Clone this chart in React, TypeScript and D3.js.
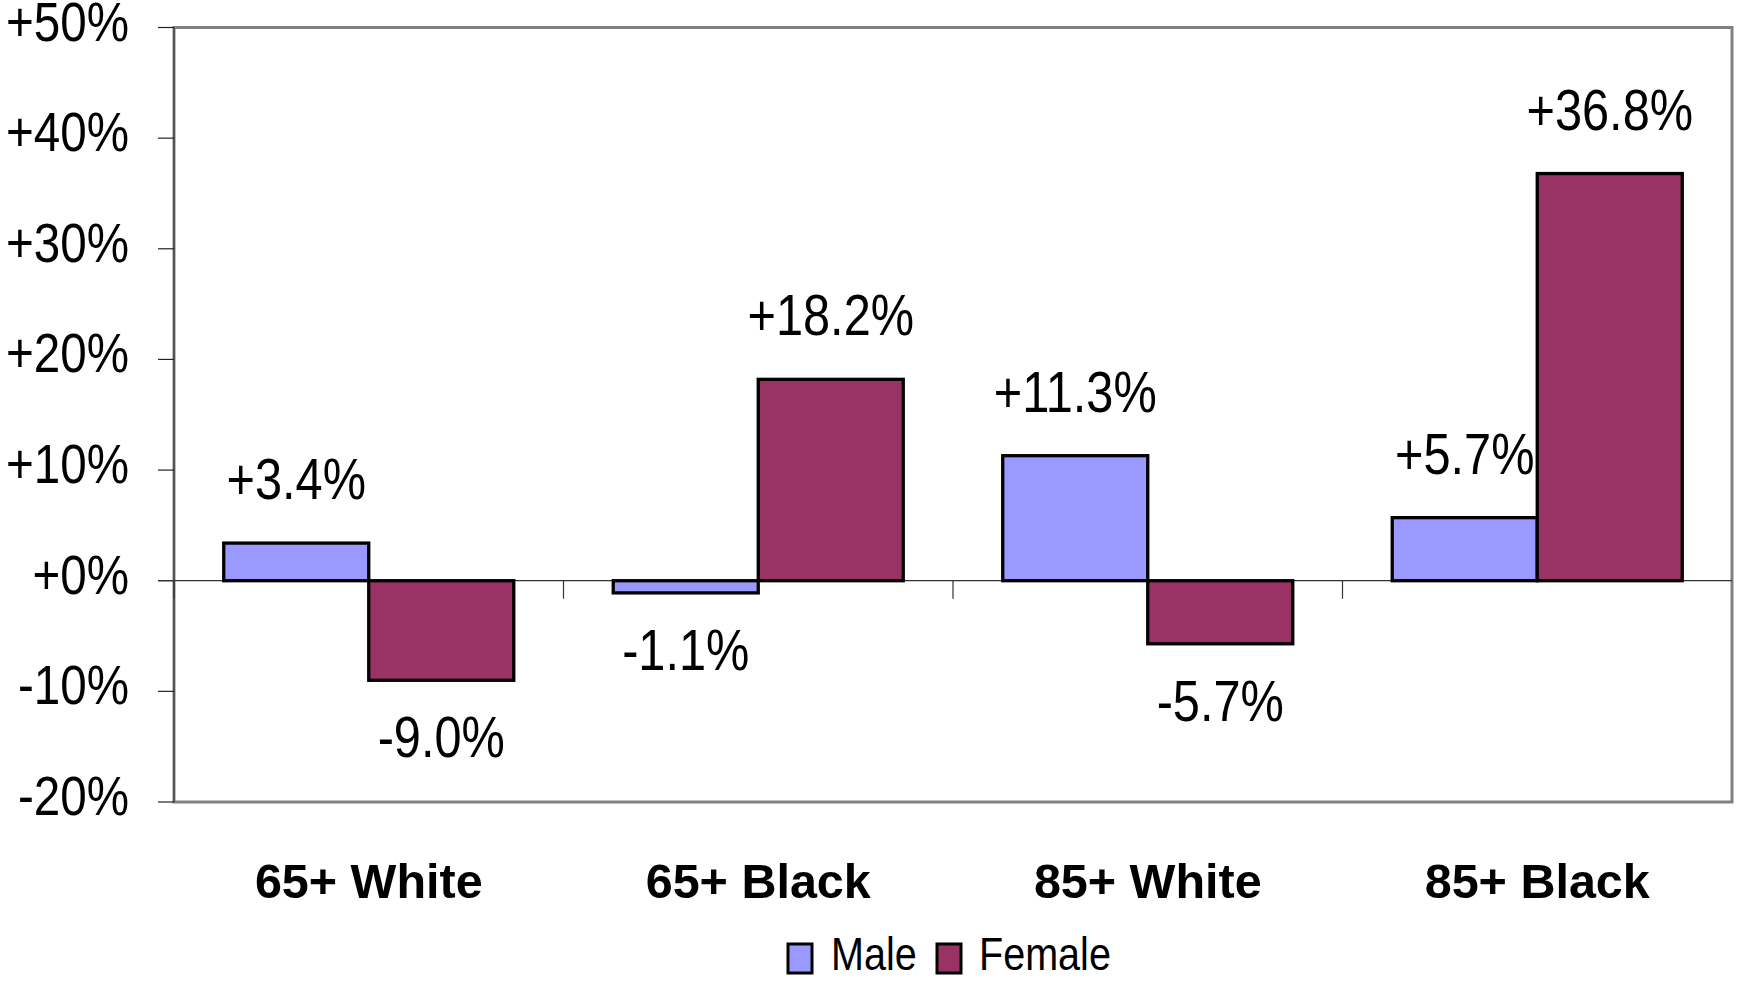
import React from 'react';
import * as d3 from 'd3';

const categories = ['65+ White', '65+ Black', '85+ White', '85+ Black'];
const series = ['Male', 'Female'];
const maleValues = [3.4, -1.1, 11.3, 5.7];
const femaleValues = [-9.0, 18.2, -5.7, 36.8];
const yTicks = [-20, -10, 0, 10, 20, 30, 40, 50];
const colors = ['#9999FF', '#993366'];

const W = 1743;
const H = 981;
const left = 174;
const right = 1732;
const top = 27.5;
const bottom = 802;
const font = '"Liberation Sans", Arial, sans-serif';

const fmt = (v: number, digits: number) => (v >= 0 ? '+' : '') + v.toFixed(digits) + '%';

// narrow-looking text: normal glyphs squeezed horizontally
const Narrow: React.FC<{ x: number; y: number; size: number; anchor: string; sq?: number; children: React.ReactNode }> = ({ x, y, size, anchor, sq = 0.84, children }) => (
  <text
    transform={`translate(${x},${y}) scale(${sq},1)`}
    fontSize={size}
    fontFamily={font}
    textAnchor={anchor}
    fill="#000"
  >
    {children}
  </text>
);

const App: React.FC = () => {
  const y = d3.scaleLinear().domain([-20, 50]).range([bottom, top]);
  const x0 = d3.scaleBand<string>().domain(categories).range([left, right]).padding(0);
  const x1 = d3.scaleBand<string>().domain(series).range([0, x0.bandwidth()]).paddingInner(0).paddingOuter(0.343);

  const rows = categories.map((c, i) => ({ cat: c, values: [maleValues[i], femaleValues[i]] }));

  return (
    <svg width={W} height={H} style={{ position: 'absolute', left: 0, top: 0, display: 'block', background: '#fff' }}>
      {/* plot frame */}
      <rect x={left} y={top} width={right - left} height={bottom - top} fill="#fff" stroke="#808080" strokeWidth={3} />
      <line x1={left} x2={left} y1={top} y2={bottom} stroke="#555" strokeWidth={2} />

      {/* y ticks + labels */}
      {yTicks.map(t => (
        <g key={t}>
          <line x1={158} x2={left} y1={y(t)} y2={y(t)} stroke="#222" strokeWidth={1.2} />
          <Narrow x={129} y={y(t) + 13} size={56} anchor="end" sq={0.85}>{fmt(t, 0)}</Narrow>
        </g>
      ))}

      {/* zero line and category ticks */}
      <line x1={158} x2={right} y1={y(0)} y2={y(0)} stroke="#333" strokeWidth={1.2} />
      {categories.map(c => (
        <line key={c} x1={x0(c)!} x2={x0(c)!} y1={y(0)} y2={y(0) + 18} stroke="#333" strokeWidth={1.2} />
      ))}

      {/* bars */}
      {rows.map(r => (
        <g key={r.cat} transform={`translate(${x0(r.cat)},0)`}>
          {r.values.map((v, j) => (
            <rect
              key={series[j]}
              x={x1(series[j])!}
              y={y(Math.max(0, v))}
              width={x1.bandwidth()}
              height={Math.abs(y(v) - y(0))}
              fill={colors[j]}
              stroke="#000"
              strokeWidth={3.3}
            />
          ))}
        </g>
      ))}

      {/* value labels */}
      {rows.map(r =>
        r.values.map((v, j) => {
          const cx = x0(r.cat)! + x1(series[j])! + x1.bandwidth() / 2;
          const ly = v >= 0 ? y(v) - 44 : y(v) + 77;
          return (
            <Narrow key={r.cat + j} x={cx} y={ly} size={58} anchor="middle" sq={0.84}>{fmt(v, 1)}</Narrow>
          );
        })
      )}

      {/* category labels */}
      {categories.map(c => (
        <text
          key={c}
          x={x0(c)! + x0.bandwidth() / 2}
          y={898}
          textAnchor="middle"
          fontFamily={font}
          fontWeight="bold"
          fontSize={48.5}
          fill="#000"
        >
          {c}
        </text>
      ))}

      {/* legend */}
      <rect x={788} y={944} width={24} height={29} fill={colors[0]} stroke="#000" strokeWidth={3} />
      <Narrow x={831} y={970} size={46} anchor="start" sq={0.86}>{series[0]}</Narrow>
      <rect x={937} y={944} width={24} height={29} fill={colors[1]} stroke="#000" strokeWidth={3} />
      <Narrow x={979} y={970} size={46} anchor="start" sq={0.86}>{series[1]}</Narrow>
    </svg>
  );
};

export default App;
